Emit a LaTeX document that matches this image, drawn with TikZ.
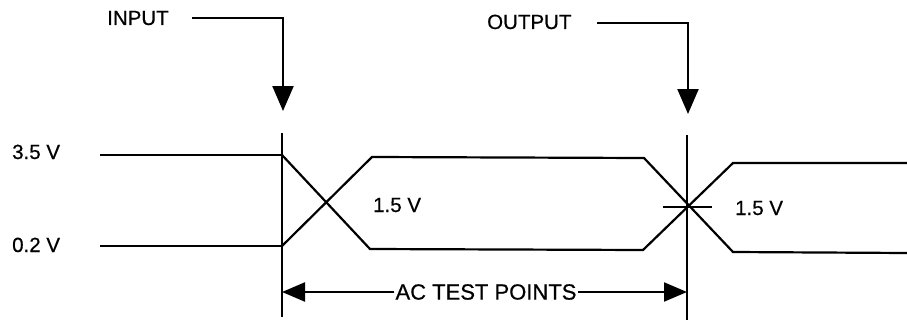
\documentclass[tikz,border=0pt]{standalone}
\usepackage{fontspec}
\setmainfont[FakeBold=0.6]{Liberation Sans}
\usetikzlibrary{arrows.meta}
\begin{document}
\begin{tikzpicture}[x=1pt,y=-1pt,
  wire/.style={line width=2.2pt, line join=miter},
  lbl/.style={font=\fontsize{20.5}{22}\selectfont, inner sep=0pt, anchor=base west},
  bigarr/.style={wire, -{Triangle[length=25pt,width=21pt]}},
  dimarr/.style={wire, -{Triangle[length=23pt,width=19pt]}}]
\useasboundingbox (0,0) rectangle (907,321);
% labels
\node[lbl] (inp) at (107,25) {INPUT};
\node[lbl] (outp) at (487,29) {OUTPUT};
\node[lbl] (v35) at (12,159) {3.5 V};
\node[lbl] (v02) at (12,252) {0.2 V};
\node[lbl] (v15a) at (373,212) {1.5 V};
\node[lbl] (v15b) at (735,215) {1.5 V};
\node[font=\fontsize{22}{24}\selectfont, inner xsep=1pt, inner ysep=0pt] (act) at (486,292) {AC TEST POINTS};
% coordinates
\coordinate (inS) at (192,18);
\coordinate (inT) at (283,111);
\coordinate (outS) at (597,23);
\coordinate (outT) at (688,114);
\coordinate (inTop) at (282,133);
\coordinate (inBot) at (282,317);
\coordinate (outTop) at (687,135);
\coordinate (outBot) at (687,320);
\coordinate (hiL) at (100,155);
\coordinate (loL) at (100,246);
\coordinate (hiA) at (282,155);
\coordinate (loA) at (282,246);
\coordinate (lo1) at (370,249);
\coordinate (hi1) at (372,157);
\coordinate (lo2) at (643,250);
\coordinate (hi2) at (644,158);
\coordinate (hi3) at (733,163);
\coordinate (lo3) at (733,252);
\coordinate (hiR) at (907,163);
\coordinate (loR) at (907,253);
\coordinate (tickL) at (663,207);
\coordinate (tickR) at (712,207);
\coordinate (acL) at (282,292);
\coordinate (acR) at (687,292);
% pointer arrows
\draw[bigarr] (inS) -| (inT);
\draw[bigarr] (outS) -| (outT);
% reference verticals
\draw[wire] (inTop) -- (inBot);
\draw[wire] (outTop) -- (outBot);
% waveforms
\draw[wire] (hiL) -- (hiA);
\draw[wire] (loL) -- (loA);
\draw[wire] (hiA) -- (lo1) -- (lo2) -- (hi3) -- (hiR);
\draw[wire] (loA) -- (hi1) -- (hi2) -- (lo3) -- (loR);
\draw[wire] (tickL) -- (tickR);
% AC test points dimension
\draw[dimarr] (act.west) -- (acL);
\draw[dimarr] (act.east) -- (acR);
\end{tikzpicture}
\end{document}
